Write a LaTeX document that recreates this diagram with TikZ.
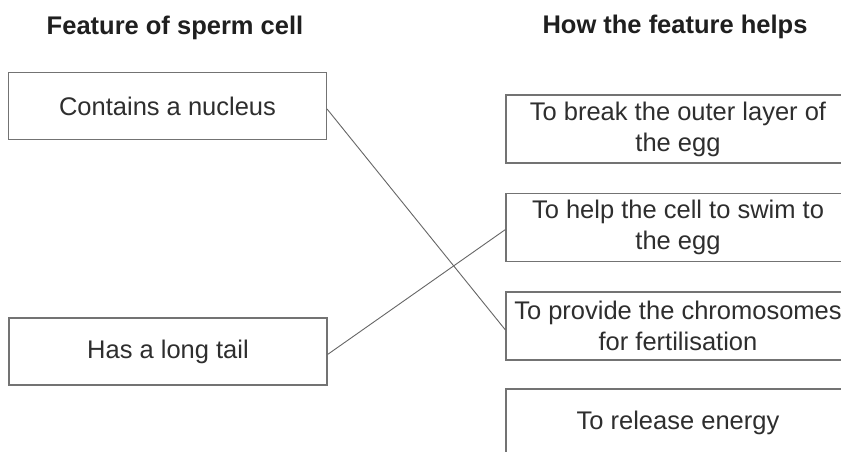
\documentclass[tikz,border=0pt]{standalone}
\usepackage{fontspec}
\setmainfont{Liberation Sans}
\begin{document}
\begin{tikzpicture}[x=1pt,y=-1pt,
  txt/.style={text=black!82, font=\fontsize{25.5}{31}\selectfont, inner sep=0pt},
  head/.style={text=black!88, font=\bfseries\fontsize{25.5}{31}\selectfont, inner sep=0pt},
  box/.style={txt, draw=black!55, line width=1.1pt, align=center},
  lbox/.style={box, minimum width=318pt, minimum height=67pt},
  rbox/.style={box, minimum width=344pt, minimum height=68pt},
  link/.style={draw=black!60, line width=0.9pt}]
\useasboundingbox (0,0) rectangle (841,452);
\clip (0,0) rectangle (841,452);
\fill[white] (0,0) rectangle (841,452);
\node[head] (h1) at (175,28) {Feature of sperm cell};
\node[head] (h2) at (675,27) {How the feature helps};
\node[lbox] (l1) at (167.5,106) {Contains a nucleus};
\node[lbox] (l2) at (168,351.5) {Has a long tail};
\node[rbox] (r1) at (678,129) {To break the outer layer of\\the egg};
\node[rbox] (r2) at (678,227.5) {To help the cell to swim to\\the egg};
\node[rbox] (r3) at (678,326) {To provide the chromosomes\\for fertilisation};
\node[rbox] (r4) at (678,423) {To release energy};
\draw[link] ([yshift=-3pt]l1.east) -- ([yshift=-4pt]r3.west);
\draw[link] ([yshift=-3pt]l2.east) -- ([yshift=-2pt]r2.west);
\end{tikzpicture}
\end{document}
